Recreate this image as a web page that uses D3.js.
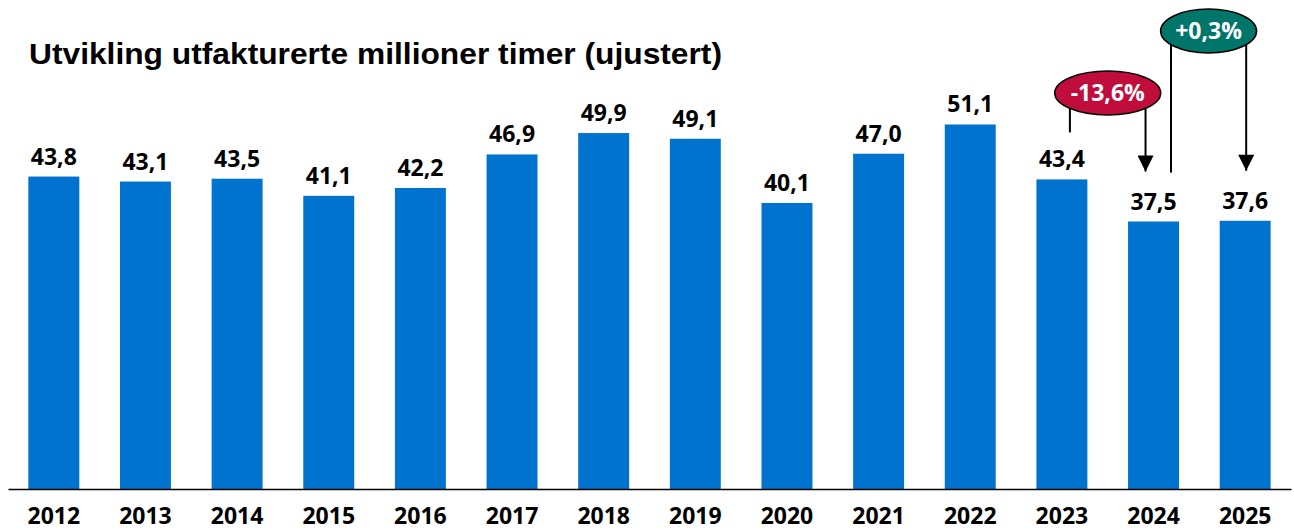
<!DOCTYPE html>
<html>
<head>
<meta charset="utf-8">
<script src="https://cdn.jsdelivr.net/npm/d3@7"></script>
<style>
  body { margin: 0; background: #fff; }
</style>
</head>
<body>
<div id="chart"></div>
<script>
// data
var years = ["2012","2013","2014","2015","2016","2017","2018","2019","2020","2021","2022","2023","2024","2025"];
var hours = [43.8, 43.1, 43.5, 41.1, 42.2, 46.9, 49.9, 49.1, 40.1, 47.0, 51.1, 43.4, 37.5, 37.6];
// change annotations: from year, to year, label
var changes = [
  { from: "2023", to: "2024", text: "-13,6%", color: "#c00d3c", level: 93 },
  { from: "2024", to: "2025", text: "+0,3%", color: "#00766a", level: 31 }
];

var width = 1294, height = 530;
var labelFont = "'Open Sans', sans-serif";
var fmt = function(v) { return d3.format(".1f")(v).replace(".", ","); };

var svg = d3.select("#chart").append("svg")
  .attr("width", width)
  .attr("height", height);

var x = d3.scaleBand()
  .domain(years)
  .range([8, 1291])
  .paddingInner(0.444)
  .paddingOuter(0.222);

var y = d3.scaleLinear()
  .domain([0, 60])
  .range([489, 61]);

// title
svg.append("text")
  .attr("x", 29)
  .attr("y", 64)
  .attr("font-family", "Liberation Sans, Arial, sans-serif")
  .attr("font-weight", "bold")
  .attr("font-size", 30)
  .attr("textLength", 693)
  .attr("lengthAdjust", "spacingAndGlyphs")
  .attr("fill", "#000")
  .text("Utvikling utfakturerte millioner timer (ujustert)");

// bars
svg.append("g")
  .selectAll("rect")
  .data(hours)
  .enter().append("rect")
    .attr("x", function(d, i) { return x(years[i]); })
    .attr("y", function(d) { return y(d); })
    .attr("width", x.bandwidth())
    .attr("height", function(d) { return y(0) - y(d); })
    .attr("fill", "#0073cf");

// value labels
svg.append("g")
  .selectAll("text")
  .data(hours)
  .enter().append("text")
    .attr("x", function(d, i) { return x(years[i]) + x.bandwidth() / 2; })
    .attr("y", function(d) { return y(d) - 12; })
    .attr("text-anchor", "middle")
    .attr("font-family", labelFont)
    .attr("font-weight", "bold")
    .attr("font-size", 23)
    .attr("fill", "#000")
    .text(fmt);

// x axis
var xAxis = svg.append("g")
  .attr("transform", "translate(0," + y(0) + ")")
  .call(d3.axisBottom(x).tickSize(0).tickPadding(19).tickSizeOuter(0));
xAxis.select(".domain").attr("stroke", "#000").attr("stroke-width", 1.5);
xAxis.selectAll("text")
  .attr("font-family", labelFont)
  .attr("font-weight", "bold")
  .attr("font-size", 23)
  .attr("fill", "#000");

// arrow marker
svg.append("defs").append("marker")
  .attr("id", "arrow")
  .attr("viewBox", "0 0 10 10")
  .attr("refX", 10).attr("refY", 5)
  .attr("markerUnits", "userSpaceOnUse")
  .attr("orient", "auto")
  .attr("markerWidth", 17).attr("markerHeight", 16)
  .append("path")
    .attr("d", "M0,0 L10,5 L0,10 Z")
    .attr("fill", "#000");

// change brackets
changes.forEach(function(c, k) {
  var i0 = years.indexOf(c.from), i1 = years.indexOf(c.to);
  var x0 = x(c.from) + x.bandwidth() / 2 + 8;
  var x1 = x(c.to) + x.bandwidth() / 2 - 8;
  if (k == 1) { x0 = x(c.from) + x.bandwidth() - 8; x1 = x(c.to) + x.bandwidth() / 2 + 1; }
  var g = svg.append("g");
  var yStartLeft = k == 0 ? y(hours[i0]) - 47 : y(hours[i0]) - 49;
  g.append("line")
    .attr("x1", x0).attr("x2", x0)
    .attr("y1", c.level).attr("y2", yStartLeft)
    .attr("stroke", "#000").attr("stroke-width", 2);
  g.append("line")
    .attr("x1", x1).attr("x2", x1)
    .attr("y1", c.level).attr("y2", y(hours[i1]) - 50)
    .attr("stroke", "#000").attr("stroke-width", 2)
    .attr("marker-end", "url(#arrow)");
  var cx = (x0 + x1) / 2;
  g.append("ellipse")
    .attr("cx", cx).attr("cy", c.level)
    .attr("rx", k == 0 ? 53 : 48).attr("ry", 22)
    .attr("fill", c.color)
    .attr("stroke", "#000").attr("stroke-width", 1.5);
  g.append("text")
    .attr("x", cx).attr("y", c.level + 8)
    .attr("text-anchor", "middle")
    .attr("font-family", labelFont)
    .attr("font-weight", "bold")
    .attr("font-size", 23)
    .attr("fill", "#fff")
    .text(c.text);
});
</script>
</body>
</html>
